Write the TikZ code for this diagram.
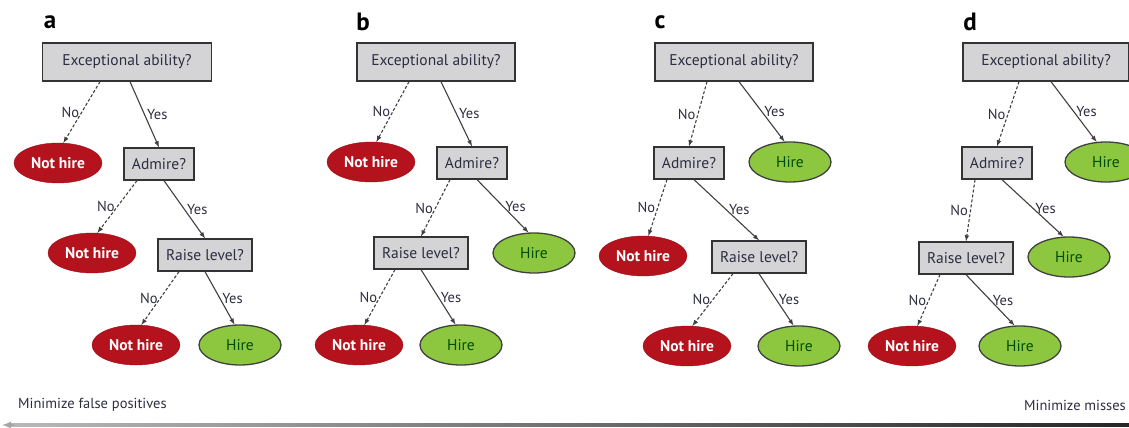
\documentclass[tikz,border=0pt]{standalone}
\usepackage{fontspec}
\setmainfont{PT Sans}
\usetikzlibrary{shapes.geometric,calc}
\definecolor{boxgrey}{RGB}{212,212,214}
\definecolor{nhred}{RGB}{180,18,28}
\definecolor{hgreen}{RGB}{141,198,63}
\definecolor{txtdark}{RGB}{45,45,65}
\begin{document}
\begin{tikzpicture}[x=1pt, y=-1pt, >=latex,
    question/.style={draw=black!80, fill=boxgrey, line width=1.3pt, text=txtdark,
      font=\fontsize{15.5}{17}\selectfont, minimum height=32pt, inner xsep=8pt},
    topq/.style={question, minimum width=158pt, minimum height=38pt},
    nothire/.style={ellipse, draw=nhred!85!black, fill=nhred, text=white,
      font=\bfseries\fontsize{15.5}{17}\selectfont, minimum width=88pt, minimum height=40pt, inner sep=0pt},
    hire/.style={ellipse, draw=black!75, line width=1.3pt, fill=hgreen, text=black!70!green,
      font=\fontsize{15.5}{17}\selectfont, minimum width=82pt, minimum height=40pt, inner sep=0pt},
    nob/.style={->, dash pattern=on 3pt off 2pt, black!75, line width=1.1pt},
    yesb/.style={->, black!75, line width=1.1pt},
    lab/.style={text=txtdark, font=\fontsize{14.5}{16}\selectfont, inner sep=2pt},
    panel/.style={font=\bfseries\fontsize{25}{27}\selectfont}]
  \useasboundingbox (0,0) rectangle (1129,428);

  % a
  \node[panel] (la) at (50,22) {a};
  \node[topq, minimum width=169pt] (ea) at (127,62) {Exceptional ability?};
  \node[nothire] (na1) at (58,163) {Not hire};
  \node[question] (aa) at (159,164) {Admire?};
  \node[nothire] (na2) at (92,253) {Not hire};
  \node[question] (ra) at (205,255) {Raise level?};
  \node[nothire] (na3) at (136,345) {Not hire};
  \node[hire] (ha) at (240,345) {Hire};
  \draw[nob] ($(ea.south)+(-27,0)$) -- node[lab, left] {No} (na1.75);
  \draw[yesb] ($(ea.south)+(3,0)$) -- node[lab, right] {Yes} (aa.north);
  \draw[nob] ($(aa.south)+(-22,0)$) -- node[lab, left] {No} (na2.75);
  \draw[yesb] ($(aa.south)+(5,0)$) -- node[lab, right] {Yes} (ra.north);
  \draw[nob] ($(ra.south)+(-26,0)$) -- node[lab, left] {No} (na3.75);
  \draw[yesb] ($(ra.south)+(0,0)$) -- node[lab, right] {Yes} (ha.105);

  % b
  \node[panel] (lb) at (363,22) {b};
  \node[topq] (eb) at (436,62) {Exceptional ability?};
  \node[nothire] (nb1) at (371,162) {Not hire};
  \node[question] (ab) at (472,163) {Admire?};
  \node[question] (rb) at (421,253) {Raise level?};
  \node[hire] (hb1) at (534,253) {Hire};
  \node[nothire] (nb2) at (359,345) {Not hire};
  \node[hire] (hb2) at (461,345) {Hire};
  \draw[nob] ($(eb.south)+(-27,0)$) -- node[lab, left] {No} (nb1.75);
  \draw[yesb] ($(eb.south)+(5,0)$) -- node[lab, right] {Yes} (ab.north);
  \draw[nob] ($(ab.south)+(-22,0)$) -- node[lab, left] {No} (rb.north);
  \draw[yesb] ($(ab.south)+(5,0)$) -- node[lab, right] {Yes} (hb1.105);
  \draw[nob] ($(rb.south)+(-26,0)$) -- node[lab, left] {No} (nb2.75);
  \draw[yesb] ($(rb.south)+(0,0)$) -- node[lab, right] {Yes} (hb2.105);

  % c
  \node[panel] (lc) at (660,22) {c};
  \node[topq] (ec) at (734,62) {Exceptional ability?};
  \node[question] (ac) at (689,163) {Admire?};
  \node[hire] (hc1) at (790,162) {Hire};
  \node[nothire] (nc1) at (643,256) {Not hire};
  \node[question] (rc) at (759,257) {Raise level?};
  \node[nothire] (nc2) at (687,346) {Not hire};
  \node[hire] (hc2) at (799,346) {Hire};
  \draw[nob] ($(ec.south)+(-27,0)$) -- node[lab, left] {No} (ac.north);
  \draw[yesb] ($(ec.south)+(5,0)$) -- node[lab, right] {Yes} (hc1.105);
  \draw[nob] ($(ac.south)+(-22,0)$) -- node[lab, left] {No} (nc1.75);
  \draw[yesb] ($(ac.south)+(5,0)$) -- node[lab, right] {Yes} (rc.north);
  \draw[nob] ($(rc.south)+(-26,0)$) -- node[lab, left] {No} (nc2.75);
  \draw[yesb] ($(rc.south)+(0,0)$) -- node[lab, right] {Yes} (hc2.105);

  % d
  \node[panel] (ld) at (970,22) {d};
  \node[topq, minimum width=166pt] (ed) at (1046,62) {Exceptional ability?};
  \node[question] (ad) at (997,163) {Admire?};
  \node[hire] (hd1) at (1106,162) {Hire};
  \node[question] (rd) at (966,258) {Raise level?};
  \node[hire] (hd2) at (1069,257) {Hire};
  \node[nothire] (nd) at (912,346) {Not hire};
  \node[hire] (hd3) at (1020,346) {Hire};
  \draw[nob] ($(ed.south)+(-27,0)$) -- node[lab, left] {No} (ad.north);
  \draw[yesb] ($(ed.south)+(5,0)$) -- node[lab, right] {Yes} (hd1.115);
  \draw[nob] ($(ad.south)+(-22,0)$) -- node[lab, left] {No} (rd.north);
  \draw[yesb] ($(ad.south)+(5,0)$) -- node[lab, right] {Yes} (hd2.105);
  \draw[nob] ($(rd.south)+(-26,0)$) -- node[lab, left] {No} (nd.75);
  \draw[yesb] ($(rd.south)+(0,0)$) -- node[lab, right] {Yes} (hd3.105);

  % scale at the bottom
  \node[lab, anchor=west] (minfp) at (16,405) {Minimize false positives};
  \node[lab, anchor=east] (minmiss) at (1128,405) {Minimize misses};
  \shade[left color=gray!55, right color=black!85] (8,423.8) rectangle (1129,426.2);
  \draw[-latex, gray!70, line width=2pt] (14,425) -- (2,425);
\end{tikzpicture}
\end{document}
